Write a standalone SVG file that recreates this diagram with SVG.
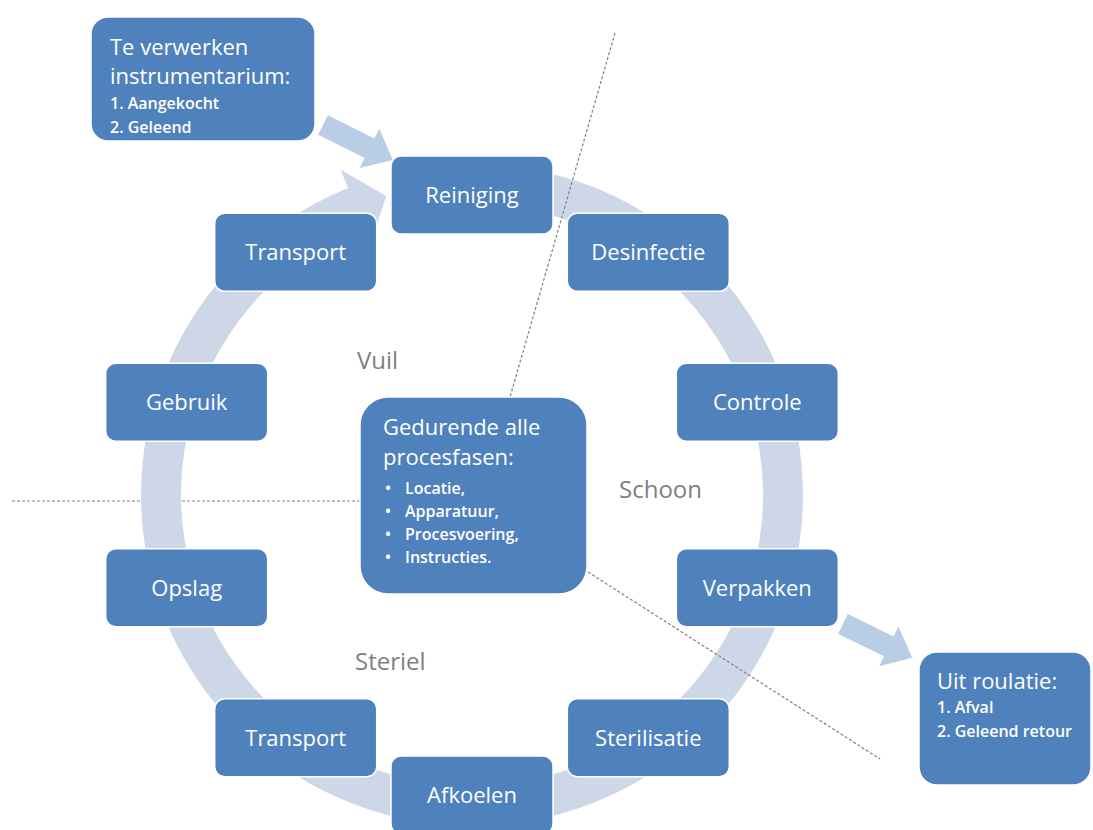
<svg xmlns="http://www.w3.org/2000/svg" width="1093" height="830" viewBox="0 0 1093 830">
<style>
.node{fill:#4F81BD;stroke:#FFFFFF;stroke-width:1.5}
.t{font-family:"Open Sans","Liberation Sans",sans-serif;fill:#FFFFFF;font-size:22px}
.tc{text-anchor:middle}
.s{font-family:"Open Sans","Liberation Sans",sans-serif;fill:#FFFFFF;font-size:16px;font-weight:600}
.lbl{font-family:"Open Sans","Liberation Sans",sans-serif;fill:#7F7F7F;font-size:24px}
.dash{stroke:#808080;stroke-width:1.2;stroke-dasharray:3 2;fill:none}
.big{fill:#B9CDE5}
</style>
<rect width="1093" height="830" fill="#FFFFFF"/>
<g id="connectors">
<line class="dash" x1="12" y1="501" x2="360" y2="501"/>
<path id="ring" d="M 500.85 165.26 A 331 331 0 1 1 348.0 188.1 L 340.5 169.6 L 386.3 196.0 L 370.5 243.7 L 363.0 225.2 A 291 291 0 1 0 497.36 205.11 Z" fill="#CED7E8"/>
<line class="dash" x1="615" y1="33" x2="510" y2="397"/>
<line class="dash" x1="588" y1="572" x2="880" y2="759"/>
<polygon class="big" points="0,-11 52,-11 52,-22 78,0 52,22 52,11 0,11" transform="translate(323,125) rotate(26.6)"/>
<polygon class="big" points="0,-11 51,-11 51,-22 77,0 51,22 51,11 0,11" transform="translate(843,624) rotate(26)"/>
</g>
<g id="input">
<rect class="node" x="91" y="17" width="224" height="124" rx="17"/>
<text class="t" x="110" y="55">Te verwerken</text>
<text class="t" x="110" y="84">instrumentarium:</text>
<text class="s" x="110" y="109">1. Aangekocht</text>
<text class="s" x="110" y="133">2. Geleend</text>
</g>
<g id="reiniging"><rect class="node" x="391" y="156" width="162" height="78" rx="10"/><text class="t tc" x="472" y="203">Reiniging</text></g>
<g id="desinfectie"><rect class="node" x="567.3" y="213.3" width="162" height="78" rx="10"/><text class="t tc" x="648.3" y="260.3">Desinfectie</text></g>
<g id="controle"><rect class="node" x="676.3" y="363.3" width="162" height="78" rx="10"/><text class="t tc" x="757.3" y="410.3">Controle</text></g>
<g id="verpakken"><rect class="node" x="676.3" y="548.7" width="162" height="78" rx="10"/><text class="t tc" x="757.3" y="595.7">Verpakken</text></g>
<g id="sterilisatie"><rect class="node" x="567.3" y="698.7" width="162" height="78" rx="10"/><text class="t tc" x="648.3" y="745.7">Sterilisatie</text></g>
<g id="afkoelen"><rect class="node" x="391" y="756" width="162" height="78" rx="10"/><text class="t tc" x="472" y="803">Afkoelen</text></g>
<g id="transport2"><rect class="node" x="214.7" y="698.7" width="162" height="78" rx="10"/><text class="t tc" x="295.7" y="745.7">Transport</text></g>
<g id="opslag"><rect class="node" x="105.7" y="548.7" width="162" height="78" rx="10"/><text class="t tc" x="186.7" y="595.7">Opslag</text></g>
<g id="gebruik"><rect class="node" x="105.7" y="363.3" width="162" height="78" rx="10"/><text class="t tc" x="186.7" y="410.3">Gebruik</text></g>
<g id="transport1"><rect class="node" x="214.7" y="213.3" width="162" height="78" rx="10"/><text class="t tc" x="295.7" y="260.3">Transport</text></g>
<g id="center">
<rect class="node" x="360" y="397" width="227" height="197" rx="28"/>
<text class="t" x="383" y="435">Gedurende alle</text>
<text class="t" x="383" y="465">procesfasen:</text>
<text class="s" x="385" y="494">•</text><text class="s" x="405" y="494">Locatie,</text>
<text class="s" x="385" y="517">•</text><text class="s" x="405" y="517">Apparatuur,</text>
<text class="s" x="385" y="540">•</text><text class="s" x="405" y="540">Procesvoering,</text>
<text class="s" x="385" y="563">•</text><text class="s" x="405" y="563">Instructies.</text>
</g>
<g id="output">
<rect class="node" x="919" y="652" width="172" height="133" rx="18"/>
<text class="t" x="937" y="689">Uit roulatie:</text>
<text class="s" x="937" y="713">1. Afval</text>
<text class="s" x="937" y="737">2. Geleend retour</text>
</g>
<g id="labels">
<text class="lbl" x="357" y="369">Vuil</text>
<text class="lbl" x="619" y="498">Schoon</text>
<text class="lbl" x="355" y="670">Steriel</text>
</g>
</svg>
